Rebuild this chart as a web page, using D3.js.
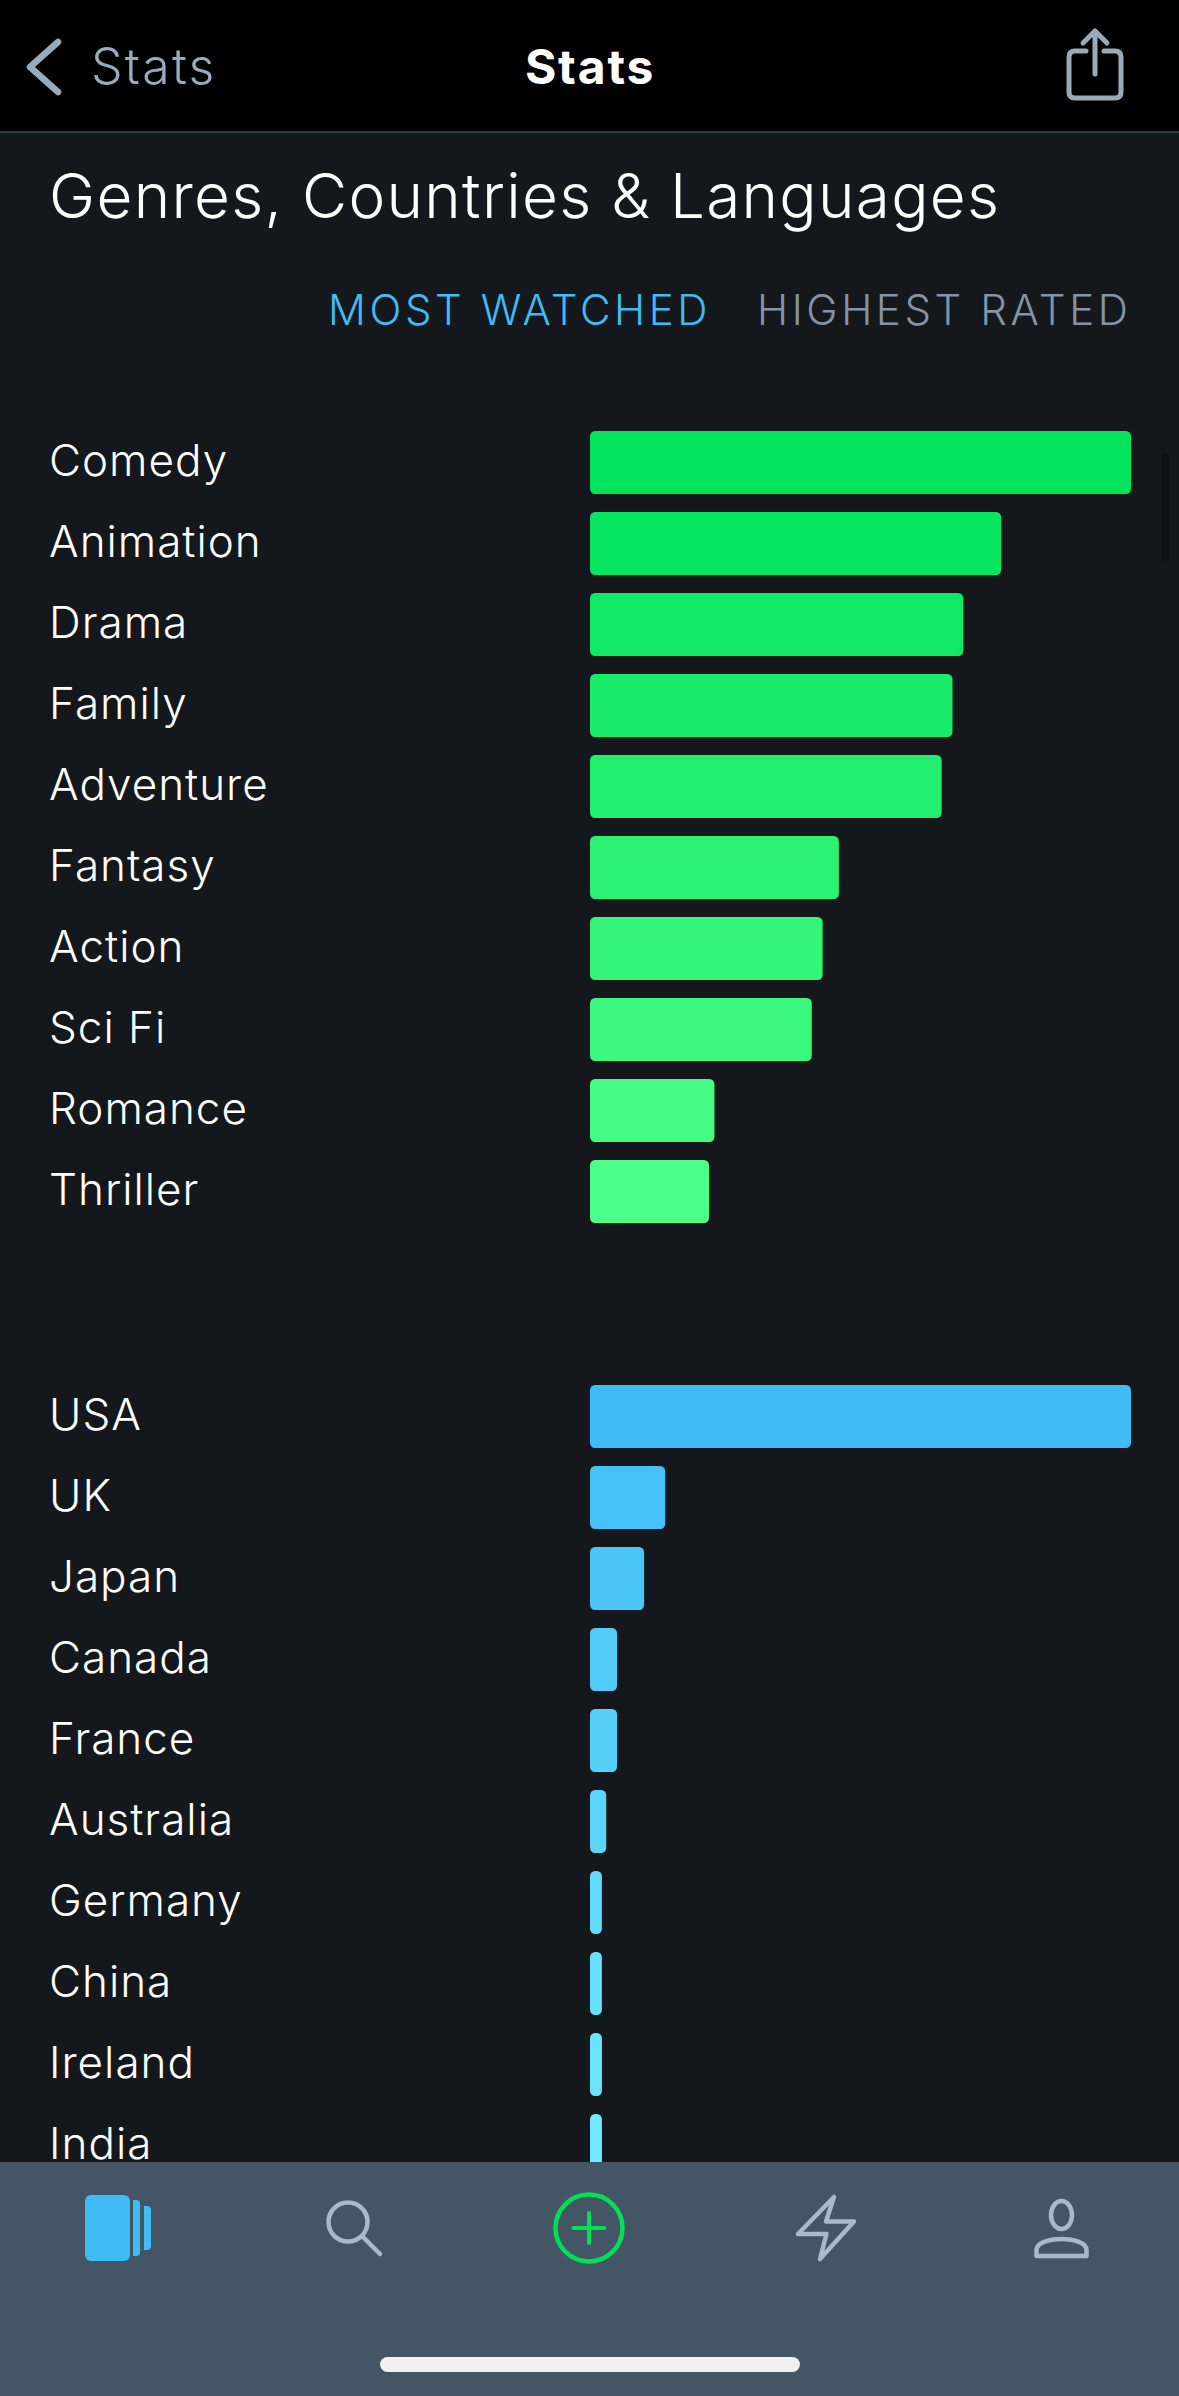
<!DOCTYPE html>
<html><head><meta charset="utf-8">
<script src="https://cdn.jsdelivr.net/npm/d3@7"></script>
<style>
html,body{margin:0;padding:0;background:#14181c;overflow:hidden}
svg{display:block}
text{font-family:Inter,"Noto Sans",sans-serif}
</style></head><body>
<div id="chart"></div>
<script>
// Chart data (share of the top item in each list, %)
const genres = ["Comedy","Animation","Drama","Family","Adventure","Fantasy","Action","Sci Fi","Romance","Thriller"];
const genreValues = [100,76,69,67,65,46,43,41,23,22];
const countries = ["USA","UK","Japan","Canada","France","Australia","Germany","China","Ireland","India"];
const countryValues = [100,13.9,10,5,5,3,2.2,2.2,2.2,2.2];
const navTitle = "Stats";
const sectionTitle = "Genres, Countries & Languages";
const tabs = ["MOST WATCHED","HIGHEST RATED"];

const W = 1179, H = 2396;
const svg = d3.select("#chart").append("svg").attr("width",W).attr("height",H).attr("viewBox",[0,0,W,H]);
svg.append("rect").attr("width",W).attr("height",H).attr("fill","#14181c");

const x = d3.scaleLinear().domain([0,100]).range([590,1131]);

function drawList(names, values, top, colorA, colorB){
  const y = d3.scaleBand().domain(names).range([top, top+792]).paddingInner(18/81).paddingOuter(0);
  const color = d3.scaleLinear().domain([0,names.length-1]).range([colorA,colorB]);
  const g = svg.append("g");
  g.selectAll("rect").data(values).join("rect")
    .attr("x",x(0)).attr("y",(d,i)=>y(names[i]))
    .attr("width",d=>x(d)-x(0)).attr("height",y.bandwidth())
    .attr("rx",d=>Math.min(5,(x(d)-x(0))/2)).attr("ry",d=>Math.min(5.5,(x(d)-x(0))/2))
    .attr("fill",(d,i)=>color(i));
  const axis = svg.append("g").attr("transform","translate(49,0)")
    .call(d3.axisLeft(y).tickSize(0).tickPadding(0));
  axis.select(".domain").remove();
  axis.selectAll("text").attr("x",0).attr("dy",null).attr("dominant-baseline",null)
    .attr("y",13)
    .attr("text-anchor","start").attr("fill","#fff")
    .style("font-family","Inter").style("font-size","44px").style("font-weight",300).style("letter-spacing","1px");
}
drawList(genres, genreValues, 431, "#00e35a", "#4cff88");
drawList(countries, countryValues, 1385, "#40bcf4", "#72e9ff");

// scrollbar
svg.append("rect").attr("x",1161).attr("y",453).attr("width",8).attr("height",108).attr("rx",4).attr("fill","#0d1013");

// header
svg.append("rect").attr("width",W).attr("height",132).attr("fill","#000");
svg.append("rect").attr("y",131).attr("width",W).attr("height",2).attr("fill","#2f3a46");
const grey = "#99aabb";
svg.append("path").attr("d","M58 42L30 67L58 92").attr("fill","none").attr("stroke",grey).attr("stroke-width",6.5).attr("stroke-linecap","round").attr("stroke-linejoin","round");
svg.append("text").attr("x",91).attr("y",84).attr("fill",grey).style("font-size","50px").style("font-weight",300).style("letter-spacing","2.2px").text(navTitle);
svg.append("text").attr("x",590).attr("y",84).attr("text-anchor","middle").attr("fill","#fff").style("font-size","48px").style("font-weight",700).style("letter-spacing","1.8px").text(navTitle);
svg.append("path").attr("d","M1086 51H1075Q1069 51 1069 57V92Q1069 98 1075 98H1115Q1121 98 1121 92V57Q1121 51 1115 51H1104M1095 74V31M1083 43L1095 31L1107 43")
  .attr("fill","none").attr("stroke",grey).attr("stroke-width",5).attr("stroke-linecap","round").attr("stroke-linejoin","round");

// section title + tabs
svg.append("text").attr("x",49).attr("y",218).attr("fill","#fff").style("font-size","62px").style("font-weight",300).style("letter-spacing","1.3px").text(sectionTitle);
svg.append("text").attr("x",328).attr("y",325).attr("fill","#40bcf4").style("font-size","42px").style("font-weight",300).style("letter-spacing","3.6px").text(tabs[0]);
svg.append("text").attr("x",757).attr("y",325).attr("fill","#8494a6").style("font-size","42px").style("font-weight",300).style("letter-spacing","3.6px").text(tabs[1]);

// tab bar
svg.append("rect").attr("y",2162).attr("width",W).attr("height",H-2162).attr("fill","#445566");
const blue = "#40bcf4", icon = "#a9b9c9", green = "#00e054";
svg.append("rect").attr("x",85).attr("y",2195).attr("width",45).attr("height",66).attr("rx",6).attr("fill",blue);
svg.append("path").attr("d","M133 2200H136Q140 2200 140 2204V2252Q140 2256 136 2256H133Z").attr("fill",blue);
svg.append("path").attr("d","M144 2206H147Q151 2206 151 2210V2246Q151 2250 147 2250H144Z").attr("fill",blue);
svg.append("circle").attr("cx",348).attr("cy",2222).attr("r",19.5).attr("fill","none").attr("stroke",icon).attr("stroke-width",4.5);
svg.append("path").attr("d","M362 2236L380 2254").attr("stroke",icon).attr("stroke-width",4.5).attr("stroke-linecap","round");
svg.append("circle").attr("cx",589).attr("cy",2228).attr("r",33.5).attr("fill","none").attr("stroke",green).attr("stroke-width",4.5);
svg.append("path").attr("d","M573.5 2228H604.5M589 2213V2243").attr("stroke",green).attr("stroke-width",4).attr("stroke-linecap","round");
svg.append("path").attr("d","M834 2197L826 2221.5H854L820 2259L826.5 2234H798Z").attr("fill","none").attr("stroke",icon).attr("stroke-width",4.5).attr("stroke-linejoin","round");
svg.append("ellipse").attr("cx",1061.5).attr("cy",2215).attr("rx",10.5).attr("ry",14).attr("fill","none").attr("stroke",icon).attr("stroke-width",4.5);
svg.append("path").attr("d","M1036.5 2256V2250C1036.5 2243 1048.5 2239 1061.5 2239C1074.5 2239 1086.5 2243 1086.5 2250V2256Z").attr("fill","none").attr("stroke",icon).attr("stroke-width",4.5).attr("stroke-linejoin","round");
svg.append("rect").attr("x",380).attr("y",2357).attr("width",420).attr("height",15).attr("rx",7.5).attr("fill","#f0f0f0");
</script>
</body></html>
